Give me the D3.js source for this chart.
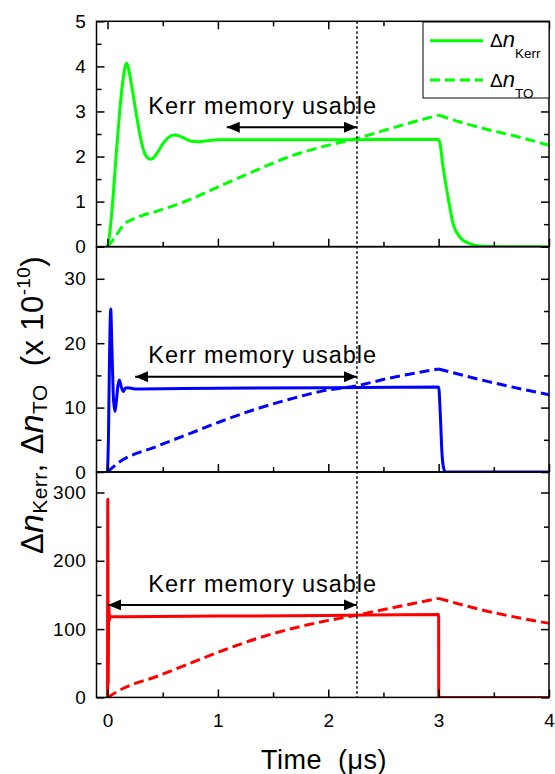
<!DOCTYPE html>
<html><head><meta charset="utf-8">
<script src="https://cdn.jsdelivr.net/npm/d3@7"></script>
<style>body{margin:0;background:#fff} svg{display:block}</style>
</head><body>
<svg id="c" width="555" height="774"></svg>
<script>
// ---------- data (time in µs, values in units of 1e-10) ----------
const greenKerrT = [0, 0.02, 0.05, 0.08, 0.11, 0.14, 0.16, 0.175, 0.19, 0.22, 0.26, 0.30, 0.34, 0.37, 0.39, 0.42, 0.46, 0.5, 0.55, 0.6, 0.65, 0.7, 0.76, 0.82, 0.9, 1.0, 1.5, 2.0, 2.5, 3.0, 3.01, 3.04, 3.09, 3.13, 3.19, 3.28, 3.4, 3.6, 4.0];
const greenKerrV = [0, 0.3, 1.1, 2.1, 3.0, 3.7, 4.0, 4.07, 3.95, 3.55, 2.95, 2.4, 2.05, 1.96, 1.94, 1.98, 2.12, 2.28, 2.42, 2.48, 2.46, 2.4, 2.34, 2.33, 2.35, 2.37, 2.37, 2.37, 2.38, 2.38, 2.32, 1.77, 1.03, 0.52, 0.22, 0.07, 0.01, 0, 0];
const greenTOT = [0, 0.05, 0.1, 0.15, 0.22, 0.3, 0.45, 0.75, 1.05, 1.35, 1.65, 1.95, 2.26, 2.56, 3.0, 3.2, 3.46, 3.7, 4.0];
const greenTOV = [0, 0.15, 0.33, 0.5, 0.6, 0.68, 0.79, 1.05, 1.38, 1.7, 2.0, 2.22, 2.4, 2.62, 2.92, 2.76, 2.59, 2.45, 2.25];

const blueKerrT = [0, 0.008, 0.018, 0.029, 0.04, 0.055, 0.068, 0.08, 0.095, 0.107, 0.12, 0.143, 0.16, 0.18, 0.25, 1.0, 2.0, 3.0, 3.015, 3.03, 3.045, 3.06, 4.0];
const blueKerrV = [0, 5, 18, 25.3, 19, 11, 9.4, 11, 13.5, 14.3, 13.5, 12.5, 13.0, 13.1, 12.9, 13.0, 13.1, 13.2, 9, 3, 0.6, 0, 0];
const blueTOT = [0, 0.08, 0.45, 0.75, 1.05, 1.35, 1.65, 1.95, 2.26, 2.56, 3.0, 3.46, 4.0];
const blueTOV = [0, 1.2, 4.0, 6.0, 8.0, 9.8, 11.3, 12.6, 13.4, 14.6, 16.0, 14.0, 12.0];

const redKerrT = [0, 0.002, 0.004, 0.006, 0.009, 0.012, 0.016, 0.022, 0.03, 1.0, 2.0, 3.0, 3.001, 4.0];
const redKerrV = [0, 290, 150, 20, 100, 134, 112, 120, 118, 119, 120, 121.5, 0, 0];
const redTOT = [0, 0.14, 0.45, 0.75, 1.05, 1.35, 1.65, 1.95, 2.26, 2.56, 3.0, 3.46, 4.0];
const redTOV = [0, 13, 31, 50, 69, 86, 100, 111, 120.5, 130.5, 145, 125.5, 108.5];

const xTicks = [0, 1, 2, 3, 4];
const xMinor = [0.5, 1.5, 2.5, 3.5];
const yTicksTop = [0, 1, 2, 3, 4, 5];
const yTicksMid = [0, 10, 20, 30];
const yTicksBot = [0, 100, 200, 300];
const yDomains = [[0, 5], [0, 35], [0, 330]];
const yMinorStep = [0.5, 5, 50];
const colors = ["#00ff00", "#0000ff", "#ff0000"];

const arrowFrom = [1.08, 0.25, 0.005];
const arrowTo = 2.26;
const arrowY = [2.65, 14.8, 135.4];
const noteX = 0.37;
const noteY = [2.94, 16.9, 154.8];
const noteText = "Kerr memory usable";
const markerT = 2.26;
const pulseEnd = 3.0;

// ---------- drawing ----------
const svg = d3.select("#c");
const FONT = "'Liberation Sans', Arial, sans-serif";
const x = d3.scaleLinear().domain([-0.1, 4]).range([96.5, 549]);
const panelTops = [21.3, 246.6, 472];
const panelH = 225.4;

const panels = [
  {kt: greenKerrT, kv: greenKerrV, tt: greenTOT, tv: greenTOV, ticks: yTicksTop},
  {kt: blueKerrT, kv: blueKerrV, tt: blueTOT, tv: blueTOV, ticks: yTicksMid},
  {kt: redKerrT, kv: redKerrV, tt: redTOT, tv: redTOV, ticks: yTicksBot}
];

const defs = svg.append("defs");
defs.append("marker").attr("id", "ah").attr("viewBox", "0 0 13 11")
  .attr("refX", 13).attr("refY", 5.5).attr("markerWidth", 13).attr("markerHeight", 11)
  .attr("markerUnits", "userSpaceOnUse").attr("orient", "auto-start-reverse")
  .append("path").attr("d", "M0,0 L13,5.5 L0,11 Z").attr("fill", "#000");

panels.forEach((p, i) => {
  const top = panelTops[i], bot = top + panelH;
  const y = d3.scaleLinear().domain(yDomains[i]).range([bot, top]);
  const minor = d3.range(yDomains[i][0] + yMinorStep[i], yDomains[i][1] + 1e-9, yMinorStep[i])
    .filter(v => !p.ticks.some(t => Math.abs(t - v) < 1e-9));
  const g = svg.append("g");

  defs.append("clipPath").attr("id", "clip" + i).append("rect")
    .attr("x", x.range()[0]).attr("y", top).attr("width", x.range()[1] - x.range()[0]).attr("height", panelH);

  const line = d3.line().x(d => x(d[0])).y(d => y(d[1])).curve(d3.curveMonotoneX);
  const plot = g.append("g").attr("clip-path", `url(#clip${i})`);
  const toPts = p.tt.map((t, k) => [t, p.tv[k]]);
  const rise = toPts.filter(d => d[0] <= pulseEnd);
  const decay = toPts.filter(d => d[0] >= pulseEnd);
  plot.append("path").attr("d", line(rise) + line(decay))
    .attr("fill", "none").attr("stroke", colors[i])
    .attr("stroke-width", 3).attr("stroke-dasharray", "10,5");
  plot.append("path").datum(p.kt.map((t, k) => [t, p.kv[k]]))
    .attr("d", line).attr("fill", "none").attr("stroke", colors[i])
    .attr("stroke-width", 3).attr("stroke-linejoin", "round");

  // axes
  const styleAxis = sel => {
    sel.select(".domain").remove();
    sel.selectAll(".tick line").attr("stroke", "#000").attr("stroke-width", 1.5);
    sel.selectAll(".tick text").attr("font-family", FONT).attr("font-size", 19).attr("fill", "#000");
  };
  g.append("g").attr("transform", `translate(${x.range()[0]},0)`)
    .call(d3.axisLeft(y).tickValues(p.ticks).tickSize(-8).tickPadding(10).tickFormat(d3.format("d")))
    .call(styleAxis).selectAll(".tick text").attr("letter-spacing", 0.6);
  g.append("g").attr("transform", `translate(${x.range()[0]},0)`)
    .call(d3.axisLeft(y).tickValues(minor).tickSize(-5).tickFormat("")).call(styleAxis);
  g.append("g").attr("transform", `translate(${x.range()[1]},0)`)
    .call(d3.axisRight(y).tickValues(p.ticks).tickSize(-8).tickFormat("")).call(styleAxis);
  g.append("g").attr("transform", `translate(${x.range()[1]},0)`)
    .call(d3.axisRight(y).tickValues(minor).tickSize(-5).tickFormat("")).call(styleAxis);

  const xb = g.append("g").attr("transform", `translate(0,${bot})`)
    .call(d3.axisBottom(x).tickValues(xTicks).tickSize(-8).tickPadding(16)
      .tickFormat(i === 2 ? d3.format("d") : ""));
  xb.call(styleAxis);
  xb.selectAll(".tick text").attr("dy", "0.71em");
  g.append("g").attr("transform", `translate(0,${bot})`)
    .call(d3.axisBottom(x).tickValues(xMinor).tickSize(-5).tickFormat("")).call(styleAxis);
  if (i === 0) {
    g.append("g").attr("transform", `translate(0,${top})`)
      .call(d3.axisTop(x).tickValues(xTicks).tickSize(-8).tickFormat("")).call(styleAxis);
    g.append("g").attr("transform", `translate(0,${top})`)
      .call(d3.axisTop(x).tickValues(xMinor).tickSize(-5).tickFormat("")).call(styleAxis);
  }
  g.append("rect").attr("x", x.range()[0]).attr("y", top)
    .attr("width", x.range()[1] - x.range()[0]).attr("height", panelH)
    .attr("fill", "none").attr("stroke", "#000").attr("stroke-width", 1.5);

  // annotation
  g.append("text").attr("x", x(noteX)).attr("y", y(noteY[i]))
    .attr("font-family", FONT).attr("font-size", 23.5).attr("letter-spacing", 0.95)
    .attr("fill", "#000").text(noteText);
  g.append("line").attr("x1", x(arrowFrom[i])).attr("x2", x(arrowTo))
    .attr("y1", y(arrowY[i])).attr("y2", y(arrowY[i]))
    .attr("stroke", "#000").attr("stroke-width", 2)
    .attr("marker-start", "url(#ah)").attr("marker-end", "url(#ah)");
});

// vertical dotted marker
svg.append("line").attr("x1", x(markerT)).attr("x2", x(markerT))
  .attr("y1", panelTops[0]).attr("y2", panelTops[2] + panelH)
  .attr("stroke", "#000").attr("stroke-width", 1.5).attr("stroke-dasharray", "2.5,2.5");

// legend
const lg = svg.append("g");
lg.append("rect").attr("x", 423).attr("y", 22).attr("width", 126).attr("height", 76)
  .attr("fill", "#fff").attr("stroke", "#000").attr("stroke-width", 1);
const legItems = [{dash: null, sub: "Kerr", ly: 40.7, by: 47}, {dash: "10,5", sub: "TO", ly: 80, by: 87}];
legItems.forEach(it => {
  lg.append("line").attr("x1", 430).attr("x2", 483).attr("y1", it.ly).attr("y2", it.ly)
    .attr("stroke", colors[0]).attr("stroke-width", 3).attr("stroke-dasharray", it.dash);
  const t = lg.append("text").attr("x", 490).attr("y", it.by).attr("font-family", FONT)
    .attr("font-size", 19).attr("fill", "#000");
  t.append("tspan").text("Δ");
  t.append("tspan").attr("font-style", "italic").attr("font-size", 22).text("n");
  t.append("tspan").attr("font-size", 13.5).attr("dy", 11).text(it.sub);
});

// axis titles
const yt = svg.append("text").attr("transform", "translate(43,405) rotate(-90)")
  .attr("text-anchor", "middle").attr("font-family", FONT).attr("font-size", 31)
  .attr("letter-spacing", 0.4).attr("fill", "#000").attr("xml:space", "preserve");
yt.append("tspan").text("Δ");
yt.append("tspan").attr("font-style", "italic").attr("font-size", 34).text("n");
yt.append("tspan").attr("font-size", 21).attr("dy", 4).text("Kerr");
yt.append("tspan").attr("dy", -4).text(", Δ");
yt.append("tspan").attr("font-style", "italic").attr("font-size", 34).text("n");
yt.append("tspan").attr("font-size", 21).attr("dy", 4).text("TO");
yt.append("tspan").attr("dy", -4).text("  (x 10");
yt.append("tspan").attr("font-size", 19).attr("dy", -13).text("-10");
yt.append("tspan").attr("dy", 13).text(")");

svg.append("text").attr("x", 324).attr("y", 769).attr("text-anchor", "middle")
  .attr("font-family", FONT).attr("font-size", 27).attr("letter-spacing", 0.5)
  .attr("fill", "#000").attr("xml:space", "preserve").text("Time  (μs)");
</script>
</body></html>
